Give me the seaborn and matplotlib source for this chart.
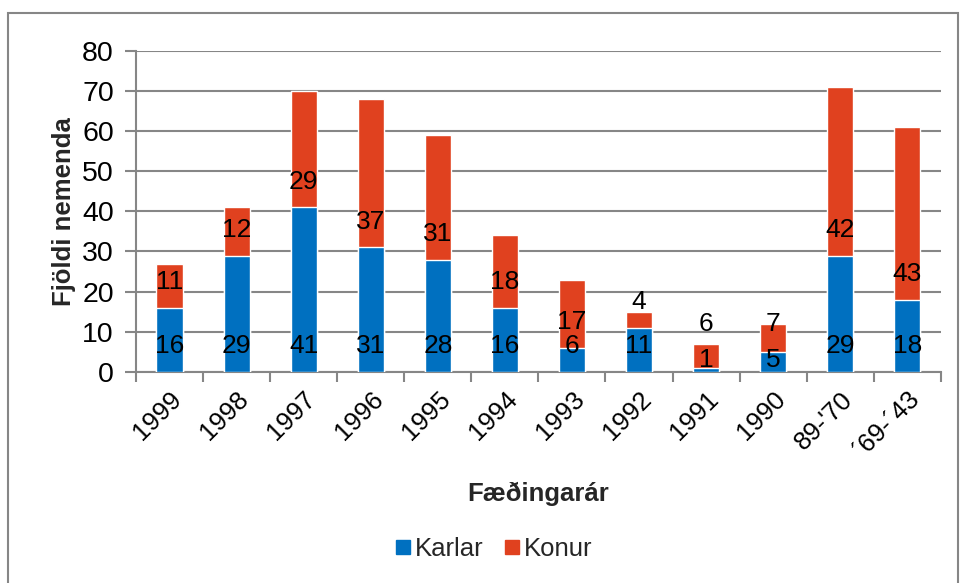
import matplotlib
matplotlib.use("Agg")
import matplotlib.pyplot as plt
from matplotlib.lines import Line2D
from matplotlib.patches import Rectangle
from matplotlib.ticker import FixedLocator
import seaborn as sns
import pandas as pd
import numpy as np

# data
years = ["1999", "1998", "1997", "1996", "1995", "1994", "1993", "1992",
         "1991", "1990", "89-'70", "´69-´43"]
karlar = [16, 29, 41, 31, 28, 16, 6, 11, 1, 5, 29, 18]
konur = [11, 12, 29, 37, 31, 18, 17, 4, 6, 7, 42, 43]

blue = "#0070C0"
red = "#E0411F"
grey = "#868686"

sns.set_theme(style="white")
plt.rcParams["font.family"] = ["Liberation Sans", "DejaVu Sans"]

df = pd.DataFrame({"year": years, "Karlar": karlar, "Konur": konur})
df["total"] = df["Karlar"] + df["Konur"]

fig = plt.figure(figsize=(9.62, 5.83), dpi=100)
ax = fig.add_axes([0.1414, 0.362, 0.8366, 0.551])

sns.barplot(data=df, x="year", y="total", color=red, width=0.39,
            saturation=1, ax=ax, zorder=3)
sns.barplot(data=df, x="year", y="Karlar", color=blue, width=0.39,
            saturation=1, ax=ax, zorder=4)

# value labels (inside base, nudged where segments are tiny)
for i, (k, w) in enumerate(zip(karlar, konur)):
    yk = 6.4 if k >= 6 else 3
    yw = max(k + 6.4, 12)
    ax.text(i, yk, str(k), ha="center", va="center", fontsize=19,
            color="black", zorder=5)
    ax.text(i, yw, str(w), ha="center", va="center", fontsize=19,
            color="black", zorder=5)

ax.set_ylim(0, 80)
ax.set_xlim(-0.5, len(years) - 0.5)
ax.set_yticks(np.arange(0, 81, 10))
ax.yaxis.grid(True, color=grey, linewidth=1.5, zorder=0)
ax.set_axisbelow(True)

for s in ["top", "right"]:
    ax.spines[s].set_visible(False)
for s in ["left", "bottom"]:
    ax.spines[s].set_color(grey)
    ax.spines[s].set_linewidth(1.5)

ax.tick_params(axis="y", which="major", left=True, length=8, width=1.5,
               color=grey, labelsize=20.5, pad=8, labelcolor="black")
ax.tick_params(axis="x", which="major", bottom=False, labelsize=18.5,
               pad=5, labelcolor="black")
ax.xaxis.set_minor_locator(FixedLocator(np.arange(-0.5, len(years), 1)))
ax.tick_params(axis="x", which="minor", bottom=True, length=7, width=1.5,
               color=grey)

for lab in ax.get_xticklabels():
    lab.set_rotation(45)
    lab.set_ha("right")
    lab.set_rotation_mode("anchor")

ax.set_xlabel("Fæðingarár", fontsize=18.5, fontweight="bold", labelpad=14)
ax.set_ylabel("Fjöldi nemenda", fontsize=18.5, fontweight="bold", labelpad=4)

handles = [Line2D([], [], marker="s", linestyle="", color=blue, markersize=9.5),
           Line2D([], [], marker="s", linestyle="", color=red, markersize=9.5)]
fig.legend(handles, ["Karlar", "Konur"], loc="center", ncol=2,
           bbox_to_anchor=(0.512, 0.058), frameon=False, fontsize=18.5,
           handletextpad=0.05, columnspacing=0.7, handlelength=0.8)

fig.patches.append(Rectangle((0.008, -0.01), 0.988, 0.988,
                             transform=fig.transFigure, fill=False,
                             edgecolor=grey, linewidth=1.5))

fig.savefig("out.png", dpi=100)
